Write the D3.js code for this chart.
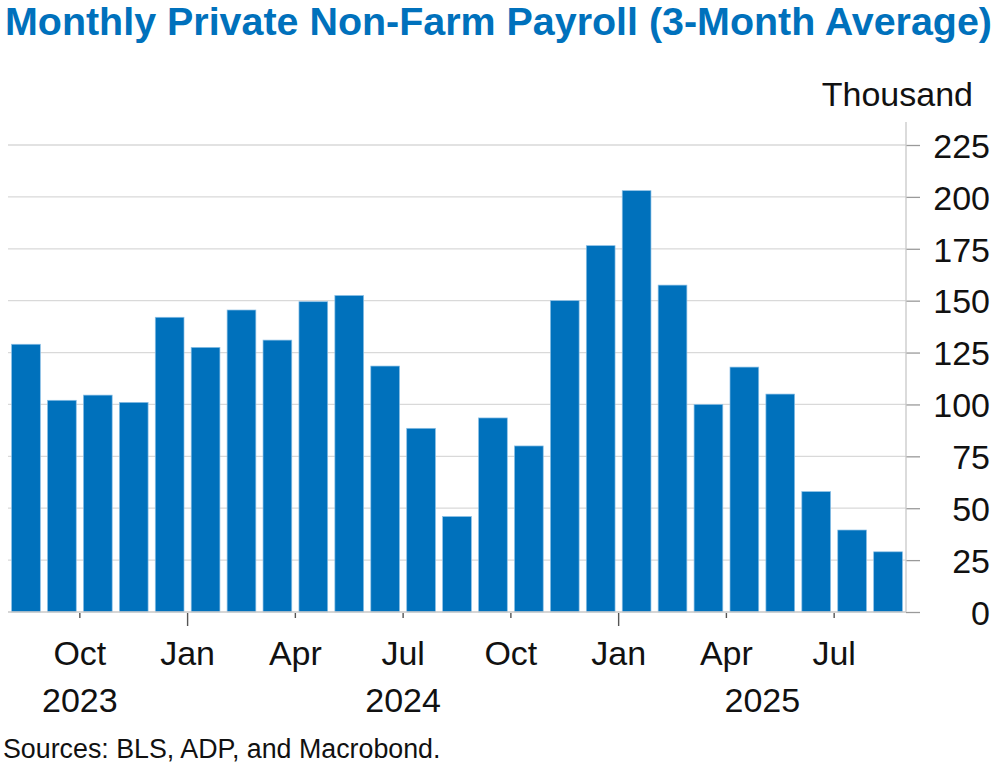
<!DOCTYPE html>
<html>
<head>
<meta charset="utf-8">
<script src="https://cdn.jsdelivr.net/npm/d3@7"></script>
<style>
    html, body { margin: 0; padding: 0; background: #fff; }
    svg { display: block; font-family: "Liberation Sans", Arial, sans-serif; }
</style>
</head>
<body>
<div id="chart"></div>
<script>
// months Aug 2023 .. Aug 2025
const months = [
    "2023-08", "2023-09", "2023-10", "2023-11", "2023-12",
    "2024-01", "2024-02", "2024-03", "2024-04", "2024-05", "2024-06",
    "2024-07", "2024-08", "2024-09", "2024-10", "2024-11", "2024-12",
    "2025-01", "2025-02", "2025-03", "2025-04", "2025-05", "2025-06",
    "2025-07", "2025-08"
];
const payroll = [
    129, 102, 104.5, 101, 142,
    127.5, 145.5, 131, 149.5, 152.5, 118.5,
    88.5, 46, 93.5, 80, 150, 176.5,
    203, 157.5, 100, 118, 105, 58,
    39.5, 29
];
const yTicks = [0, 25, 50, 75, 100, 125, 150, 175, 200, 225];
const monthTicks = ["2023-10", "2024-01", "2024-04", "2024-07", "2024-10", "2025-01", "2025-04", "2025-07"];
const monthNames = { "01": "Jan", "04": "Apr", "07": "Jul", "10": "Oct" };
const yearLabels = [
    { label: "2023", at: "2023-10" },
    { label: "2024", at: "2024-07" },
    { label: "2025", at: "2025-05" }
];

const width = 996;
const height = 767;
const plot = { left: 8, right: 906, top: 122, bottom: 612 };
const blue = "#0071bc";

const svg = d3.select("#chart").append("svg")
    .attr("width", width)
    .attr("height", height)
    .attr("viewBox", [0, 0, width, height]);

const x = d3.scaleBand()
    .domain(months)
    .range([plot.left, plot.right])
    .paddingInner(0.2)
    .paddingOuter(0.1);

// month-start positions (gap between bars)
const edge = (m) => x(m) - x.step() * x.paddingInner() / 2;

const y = d3.scaleLinear()
    .domain([0, 225])
    .range([plot.bottom, 145]);

// title
svg.append("text")
    .attr("x", 5)
    .attr("y", 35)
    .attr("fill", blue)
    .attr("font-size", 38)
    .attr("font-weight", 700)
    .attr("textLength", 987)
    .attr("lengthAdjust", "spacingAndGlyphs")
    .text("Monthly Private Non-Farm Payroll (3-Month Average)");

// gridlines
svg.append("g")
    .selectAll("line")
    .data(yTicks.filter((d) => d > 0))
    .join("line")
    .attr("x1", plot.left)
    .attr("x2", plot.right)
    .attr("y1", (d) => y(d))
    .attr("y2", (d) => y(d))
    .attr("stroke", "#d9d9d9")
    .attr("stroke-width", 1.3);

// bars
svg.append("g")
    .selectAll("rect")
    .data(months.map((m, i) => ({ month: m, value: payroll[i] })))
    .join("rect")
    .attr("x", (d) => x(d.month))
    .attr("y", (d) => y(d.value))
    .attr("width", x.bandwidth())
    .attr("height", (d) => y(0) - y(d.value))
    .attr("fill", blue)
    .attr("stroke", "#8cc0e6")
    .attr("stroke-width", 0.7);

// right axis
const yAxis = svg.append("g")
    .attr("transform", `translate(${plot.right}, 0)`)
    .call(d3.axisRight(y).tickValues(yTicks).tickSize(14).tickPadding(0).tickFormat(d3.format("d")));

yAxis.select(".domain").remove();
yAxis.append("line")
    .attr("x1", 0).attr("x2", 0)
    .attr("y1", plot.top).attr("y2", plot.bottom)
    .attr("stroke", "#c8c8c8")
    .attr("stroke-width", 1.3);
yAxis.selectAll(".tick line").attr("stroke", "#9a9a9a").attr("stroke-width", 1.3);
yAxis.selectAll(".tick text")
    .attr("x", 990 - plot.right)
    .attr("text-anchor", "end")
    .attr("dy", "0.36em")
    .attr("font-size", 34)
    .attr("font-family", "Liberation Sans, Arial, sans-serif")
    .attr("fill", "#111");

svg.append("text")
    .attr("x", 973)
    .attr("y", 106)
    .attr("text-anchor", "end")
    .attr("font-size", 34)
    .attr("fill", "#111")
    .text("Thousand");

// bottom baseline
svg.append("line")
    .attr("x1", plot.left)
    .attr("x2", plot.right)
    .attr("y1", y(0))
    .attr("y2", y(0))
    .attr("stroke", "#c8c8c8")
    .attr("stroke-width", 1.3);

// month ticks
const xTicks = svg.append("g");
xTicks.selectAll("line")
    .data(monthTicks)
    .join("line")
    .attr("x1", (d) => edge(d))
    .attr("x2", (d) => edge(d))
    .attr("y1", y(0) + 1)
    .attr("y2", (d) => y(0) + (d.endsWith("-01") ? 14 : 6))
    .attr("stroke", "#555")
    .attr("stroke-width", 1.4);

xTicks.selectAll("text")
    .data(monthTicks)
    .join("text")
    .attr("x", (d) => edge(d))
    .attr("y", 665)
    .attr("text-anchor", "middle")
    .attr("font-size", 34)
    .attr("fill", "#111")
    .text((d) => monthNames[d.slice(5)]);

svg.append("g")
    .selectAll("text")
    .data(yearLabels)
    .join("text")
    .attr("x", (d) => edge(d.at))
    .attr("y", 712)
    .attr("text-anchor", "middle")
    .attr("font-size", 34)
    .attr("fill", "#111")
    .text((d) => d.label);

svg.append("text")
    .attr("x", 3)
    .attr("y", 758)
    .attr("font-size", 26.8)
    .attr("fill", "#111")
    .text("Sources: BLS, ADP, and Macrobond.");
</script>
</body>
</html>
